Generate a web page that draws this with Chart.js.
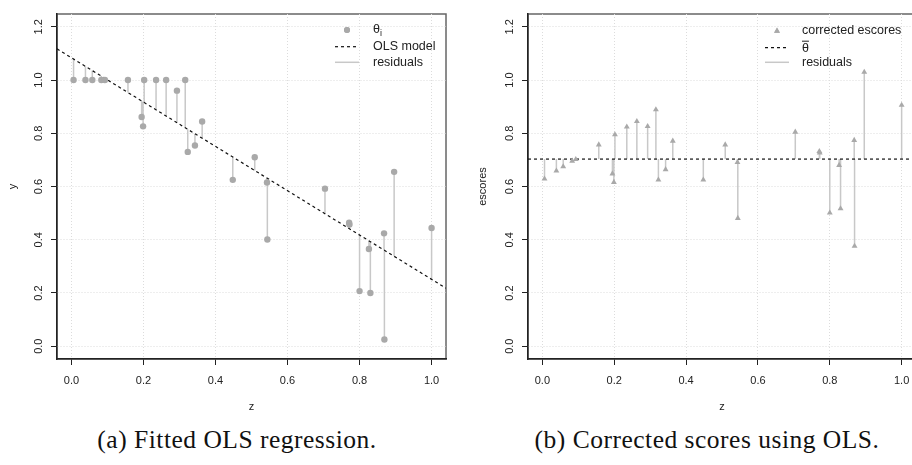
<!DOCTYPE html>
<html>
<head>
<meta charset="utf-8">
<script src="https://cdn.jsdelivr.net/npm/chart.js@4.4.0/dist/chart.umd.min.js"></script>
<style>
  html, body { margin: 0; padding: 0; background: #fff; width: 912px; height: 465px; overflow: hidden; }
  canvas { position: absolute; top: 0; }
  #leftChart { left: 0; }
  #rightChart { left: 460px; }
  .caption {
    position: absolute; top: 425px;
    font-family: "Liberation Serif", serif; font-size: 25.5px; letter-spacing: 0.5px;
    white-space: nowrap; transform: translateX(-50%); color: #111;
  }
</style>
</head>
<body>
<canvas id="leftChart" width="460" height="420"></canvas>
<canvas id="rightChart" width="470" height="420"></canvas>
<div class="caption" style="left:237px">(a) Fitted OLS regression.</div>
<div class="caption" style="left:707px">(b) Corrected scores using OLS.</div>
<script>
// covariate z, observed theta_i, fitted OLS values, corrected escores
const z = [0.006, 0.039, 0.058, 0.083, 0.093, 0.157, 0.195, 0.199, 0.202, 0.235,
           0.263, 0.293, 0.316, 0.323, 0.343, 0.363, 0.448, 0.509, 0.543, 0.544,
           0.704, 0.771, 0.772, 0.800, 0.826, 0.830, 0.868, 0.869, 0.896, 1.000];
const theta = [1.000, 1.000, 1.000, 1.000, 1.000, 1.000, 0.861, 0.826, 1.000, 1.000,
               1.000, 0.960, 1.000, 0.730, 0.754, 0.844, 0.625, 0.710, 0.615, 0.401,
               0.592, 0.464, 0.457, 0.207, 0.365, 0.200, 0.424, 0.025, 0.655, 0.444];
const fitted = [1.079, 1.052, 1.036, 1.015, 1.007, 0.953, 0.922, 0.918, 0.916, 0.888,
                0.865, 0.840, 0.821, 0.815, 0.798, 0.782, 0.711, 0.660, 0.632, 0.631,
                0.498, 0.442, 0.441, 0.418, 0.396, 0.393, 0.361, 0.360, 0.338, 0.251];
const escores = [0.629, 0.659, 0.675, 0.696, 0.702, 0.757, 0.648, 0.616, 0.795, 0.824,
                 0.845, 0.826, 0.889, 0.625, 0.664, 0.771, 0.625, 0.757, 0.691, 0.481,
                 0.805, 0.732, 0.727, 0.501, 0.680, 0.517, 0.774, 0.376, 1.030, 0.906];
const olsX = [-0.04, 1.04];
const olsY = [1.117, 0.218];
const thetaBar = 0.703;
const xTicks = [0, 0.2, 0.4, 0.6, 0.8, 1.0];
const yTicks = [0, 0.2, 0.4, 0.6, 0.8, 1.0, 1.2];

const POINT = '#a9a9a9';
const RESID = '#c8c8c8';
const INK = '#222';
const tickFont = { family: 'Liberation Sans', size: 11 };
const titleFont = { family: 'Liberation Sans', size: 11 };

function stems(ys, ends) {
    const pts = [];
    z.forEach((zi, i) => {
        pts.push({ x: zi, y: ys[i] }, { x: zi, y: ends[i] }, { x: zi, y: null });
    });
    return pts;
}

function axes(yTitle, yTitlePad, yWidth) {
    const grid = { color: '#dcdcdc', lineWidth: 1, tickLength: 6, tickColor: INK, tickWidth: 1, tickBorderDash: [] };
    const border = { color: INK, width: 1.5, dash: [1, 2] };
    return {
        x: {
            type: 'linear', min: -0.04, max: 1.04,
            afterBuildTicks: s => { s.ticks = xTicks.map(v => ({ value: v })); },
            afterFit: s => { s.height = 61; },
            ticks: { callback: v => v.toFixed(1), font: tickFont, color: INK, padding: 9, maxRotation: 0, autoSkip: false },
            grid: grid, border: border,
            title: { display: true, text: 'z', font: titleFont, color: INK, padding: { top: 0, bottom: 6 } }
        },
        y: {
            type: 'linear', min: -0.048, max: 1.248,
            afterBuildTicks: s => { s.ticks = yTicks.map(v => ({ value: v })); },
            afterFit: s => { s.width = yWidth; },
            ticks: { callback: v => v.toFixed(1), font: tickFont, color: INK, padding: 4,
                     minRotation: 90, maxRotation: 90, crossAlign: 'center', autoSkip: false },
            grid: grid, border: border,
            title: { display: true, text: yTitle, font: titleFont, color: INK, padding: { top: yTitlePad, bottom: 0 } }
        }
    };
}

const boxPlugin = {
    id: 'box',
    beforeDraw(chart) {
        const a = chart.chartArea, ctx = chart.ctx;
        ctx.save();
        ctx.strokeStyle = '#666';
        ctx.lineWidth = 1.5;
        ctx.strokeRect(a.left, a.top, a.right - a.left, a.bottom - a.top);
        ctx.restore();
    }
};

const legendPlugin = {
    id: 'insetLegend',
    afterDraw(chart, args, opts) {
        const ctx = chart.ctx;
        const x0 = opts.x, tx = opts.textX;
        ctx.save();
        ctx.font = '12.5px "Liberation Sans"';
        ctx.fillStyle = INK;
        ctx.textBaseline = 'middle';
        opts.rows.forEach(row => {
            const y = row.y;
            ctx.save();
            if (row.marker === 'circle' || row.marker === 'triangle') {
                ctx.fillStyle = POINT;
                Chart.helpers.drawPoint(ctx, { pointStyle: row.marker, radius: row.marker === 'circle' ? 3 : 3.4, borderWidth: 0 }, x0, y);
                ctx.fill();
            } else {
                ctx.strokeStyle = row.marker === 'dash' ? '#111' : RESID;
                ctx.lineWidth = row.marker === 'dash' ? 1.2 : 1.5;
                ctx.setLineDash(row.marker === 'dash' ? [3, 3] : []);
                ctx.beginPath();
                ctx.moveTo(x0 - 12, y);
                ctx.lineTo(x0 + 12, y);
                ctx.stroke();
            }
            ctx.restore();
            if (row.kind === 'sub') {
                ctx.fillText('θ', tx, y);
                const w = ctx.measureText('θ').width;
                ctx.font = '9px "Liberation Sans"';
                ctx.fillText('i', tx + w, y + 4);
                ctx.font = '12.5px "Liberation Sans"';
            } else if (row.kind === 'bar') {
                ctx.fillText('θ', tx, y + 1);
                const w = ctx.measureText('θ').width;
                ctx.strokeStyle = INK;
                ctx.lineWidth = 1;
                ctx.beginPath();
                ctx.moveTo(tx, y - 6.5);
                ctx.lineTo(tx + w, y - 6.5);
                ctx.stroke();
            } else {
                ctx.fillText(row.text, tx, y);
            }
        });
        ctx.restore();
    }
};

const common = {
    responsive: false,
    animation: false,
    events: [],
    plugins: { legend: { display: false }, tooltip: { enabled: false } }
};

new Chart(document.getElementById('leftChart'), {
    type: 'scatter',
    data: {
        datasets: [{
            label: 'θi',
            data: z.map((zi, i) => ({ x: zi, y: theta[i] })),
            backgroundColor: POINT, borderWidth: 0, pointRadius: 3.2, order: 0
        }, {
            label: 'OLS model',
            data: olsX.map((v, i) => ({ x: v, y: olsY[i] })),
            showLine: true, borderColor: '#111', borderWidth: 1.2, borderDash: [3, 3],
            pointRadius: 0, order: 1
        }, {
            label: 'residuals',
            data: stems(theta, fitted),
            showLine: true, borderColor: RESID, borderWidth: 1.5, pointRadius: 0, order: 2
        }]
    },
    options: Object.assign({}, common, {
        layout: { padding: { top: 14, right: 14, left: 0, bottom: 0 } },
        scales: axes('y', 6, 57),
        plugins: Object.assign({}, common.plugins, {
            insetLegend: {
                x: 347, textX: 373,
                rows: [
                    { marker: 'circle', kind: 'sub', y: 30 },
                    { marker: 'dash', text: 'OLS model', y: 46.7 },
                    { marker: 'line', text: 'residuals', y: 62.3 }
                ]
            }
        })
    }),
    plugins: [boxPlugin, legendPlugin]
});

new Chart(document.getElementById('rightChart'), {
    type: 'scatter',
    data: {
        datasets: [{
            label: 'corrected escores',
            data: z.map((zi, i) => ({ x: zi, y: escores[i] })),
            backgroundColor: POINT, borderWidth: 0, pointStyle: 'triangle', pointRadius: 3.4, order: 0
        }, {
            label: 'theta bar',
            data: olsX.map(v => ({ x: v, y: thetaBar })),
            showLine: true, borderColor: '#111', borderWidth: 1.2, borderDash: [3, 3],
            pointRadius: 0, order: 1
        }, {
            label: 'residuals',
            data: stems(escores, z.map(() => thetaBar)),
            showLine: true, borderColor: RESID, borderWidth: 1.5, pointRadius: 0, order: 2
        }]
    },
    options: Object.assign({}, common, {
        layout: { padding: { top: 14, right: 14, left: 0, bottom: 0 } },
        scales: axes('escores', 16, 68),
        plugins: Object.assign({}, common.plugins, {
            insetLegend: {
                x: 317, textX: 342,
                rows: [
                    { marker: 'triangle', text: 'corrected escores', y: 31 },
                    { marker: 'dash', kind: 'bar', y: 47.7 },
                    { marker: 'line', text: 'residuals', y: 62.3 }
                ]
            }
        })
    }),
    plugins: [boxPlugin, legendPlugin]
});
</script>
</body>
</html>
